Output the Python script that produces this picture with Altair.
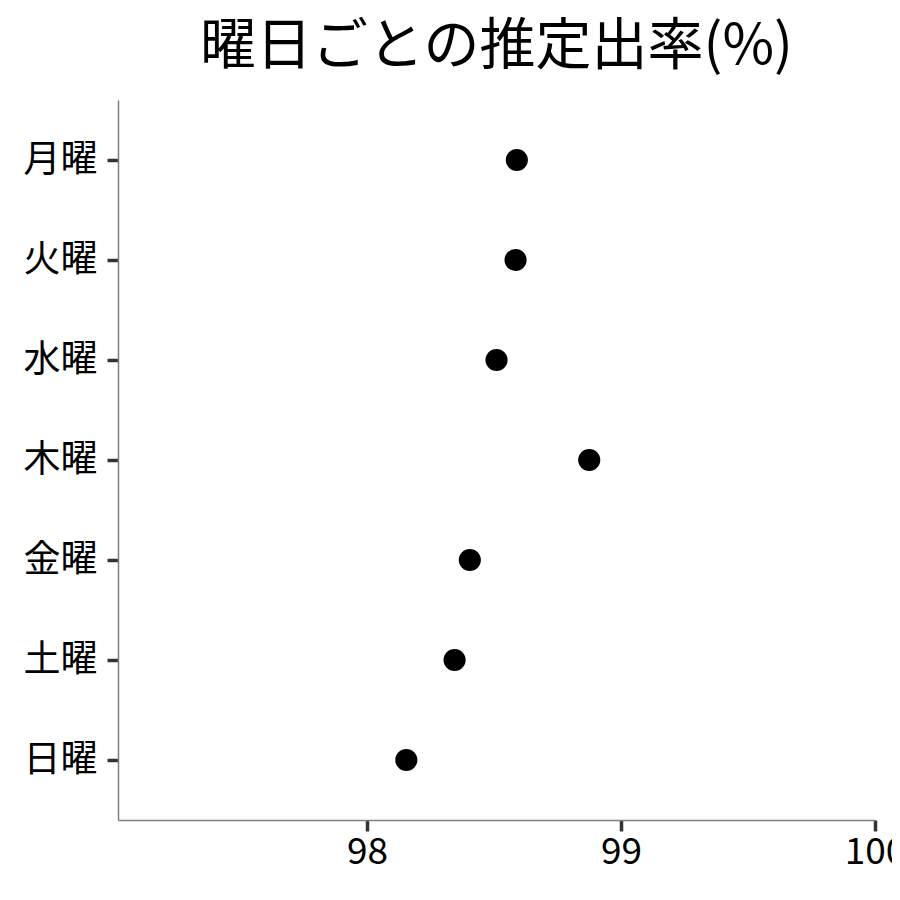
import altair as alt
import pandas as pd

days = ["月曜", "火曜", "水曜", "木曜", "金曜", "土曜", "日曜"]
rates = [98.59, 98.585, 98.51, 98.875, 98.405, 98.345, 98.155]
x_ticks = [98, 99, 100]

df = pd.DataFrame({"day": days, "rate": rates})

FONT = "Noto Sans CJK JP"

chart = alt.Chart(df).mark_circle(size=490, color="black", opacity=1).encode(
    x=alt.X("rate:Q",
            scale=alt.Scale(domain=[97.02, 100], nice=False, zero=False),
            axis=alt.Axis(values=x_ticks, title=None, grid=False,
                          domainColor="#7f7f7f", domainWidth=1.5,
                          tickColor="#333333", tickWidth=3.5, tickSize=11,
                          labelFontSize=37, labelColor="black", labelPadding=3,
                          labelFont=FONT, labelFlush=False)),
    y=alt.Y("day:N", sort=days,
            scale=alt.Scale(type="point", padding=0.6),
            axis=alt.Axis(title=None, grid=False,
                          domainColor="#7f7f7f", domainWidth=1.5,
                          tickColor="#333333", tickWidth=3.5, tickSize=11,
                          labelFontSize=37, labelColor="black", labelPadding=10,
                          labelFont=FONT)),
).properties(
    width=757,
    height=720,
    title=alt.TitleParams("曜日ごとの推定出率(%)", fontSize=56, font=FONT,
                          fontWeight="normal", anchor="middle", color="black",
                          offset=24),
    autosize=alt.AutoSizeParams(type="none"),
    padding={"left": 110, "top": 92, "right": 17, "bottom": 60},
).configure_view(stroke=None)

chart.save("out.html", embed_options={"renderer": "svg", "actions": False})
